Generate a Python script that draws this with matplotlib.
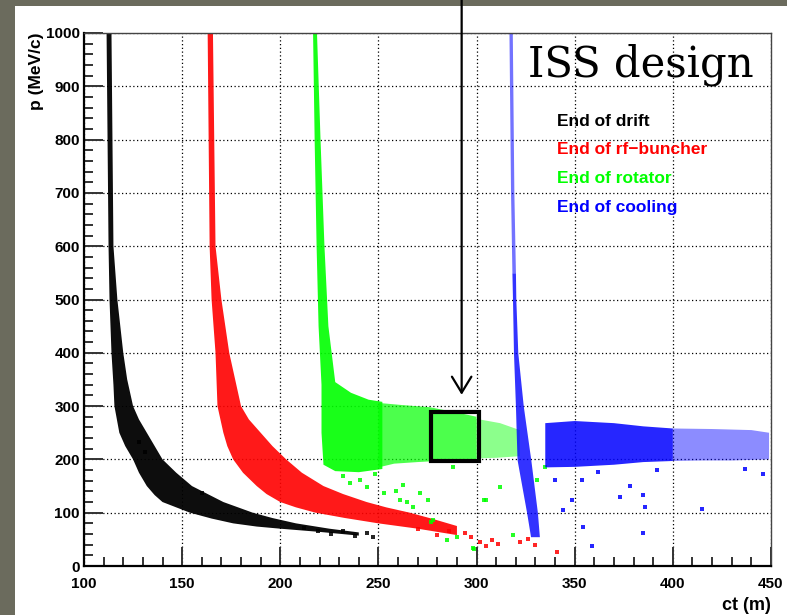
import numpy as np
import matplotlib.pyplot as plt
from matplotlib.patches import Rectangle

# p (MeV/c) versus ct (m) at four stages of the front end
# each band is stored as its two edges (ct, p); sparse parts as single points

# End of drift
drift_top_ct = [114, 115, 117, 120, 122, 125, 128, 132, 136, 140, 147, 155, 163, 171,
                186, 196, 208, 225, 240]
drift_top_p = [1000, 600, 500, 400, 350, 300, 275, 250, 225, 200, 175, 150, 135, 120,
               100, 90, 80, 70, 63]
drift_bot_ct = [111.5, 112.5, 113, 114, 115, 115.5, 117, 118, 121, 125, 128, 132, 136,
                140, 147, 154, 165, 176, 188, 200, 220, 240]
drift_bot_p = [1000, 600, 500, 400, 340, 300, 270, 250, 225, 200, 175, 150, 133,
               120, 110, 100, 89, 80, 74, 70, 64, 57]
drift_dots_ct = [244, 238, 232, 226, 219, 247, 212, 128, 131, 160]
drift_dots_p = [62, 57, 65, 60, 66, 55, 72, 233, 214, 137]

# End of rf-buncher
buncher_top_ct = [165.7, 167, 170, 174, 177, 180, 184, 190, 196, 203, 211, 222, 232,
                  244, 254, 266, 278, 290]
buncher_top_p = [1000, 600, 500, 400, 350, 300, 275, 250, 225, 200, 175, 150, 135,
                 120, 110, 100, 88, 75]
buncher_bot_ct = [163, 164, 165, 167, 168, 169.5, 171, 173, 176, 181, 188, 193, 200,
                  208, 218, 233, 250, 270, 290]
buncher_bot_p = [1000, 600, 500, 400, 300, 275, 250, 225, 200, 175, 150, 135, 120,
                 110, 100, 90, 80, 70, 58]
buncher_dots_ct = [302, 305, 308, 311, 322, 326, 330, 341, 294, 297, 286, 280, 270]
buncher_dots_p = [45, 38, 49, 41, 45, 50, 40, 27, 62, 55, 66, 58, 70]

# End of rotator
rotator_core_ct = [216.7, 218.7, 220.5, 222.5, 224.5, 228, 236, 245, 252,
                   252, 240, 228, 222, 221, 221, 219.5, 218.5, 217.5]
rotator_core_p = [1000, 1000, 800, 600, 450, 345, 325, 312, 308,
                  182, 176, 178, 190, 250, 340, 450, 600, 800]
rotator_mid_ct = [250, 262, 276, 290, 300, 300, 285, 270, 258, 250]
rotator_mid_p = [306, 302, 298, 288, 280, 200, 198, 195, 192, 185]
rotator_tail_ct = [300, 312, 322, 322, 310, 300]
rotator_tail_p = [276, 268, 255, 206, 203, 202]
rotator_dots_ct = [253, 259, 261, 267.6, 275, 278, 285, 298, 290, 288, 304, 312,
                   330.7, 335, 240.6, 244, 235.6, 262.5, 271, 264.5, 277, 298.7,
                   318.5, 304.8, 232, 248]
rotator_dots_p = [137, 141, 124, 111, 124, 86, 49, 33, 55, 186, 124, 149,
                  162, 186, 162, 149, 155, 152, 137, 121, 83, 32,
                  58, 124, 168, 172]

# End of cooling
cooling_stem_p = [1000, 700, 550, 500, 400, 300, 200, 100, 55]
cooling_stem_lo = [316.5, 317.3, 318, 318.3, 318.8, 319.8, 320.6, 325.5, 327.5]
cooling_stem_hi = [318.2, 319, 319.8, 320, 321, 323.8, 327.6, 331, 332]
cooling_core_ct = [335, 350, 370, 385, 400, 400, 385, 370, 350, 335]
cooling_core_p = [268, 272, 268, 262, 258, 197, 195, 190, 186, 185]
cooling_tail_ct = [400, 420, 440, 449, 449, 430, 415, 400]
cooling_tail_p = [258, 257, 255, 250, 200, 198, 198, 197]
cooling_dots_ct = [378, 385, 373, 386, 384.6, 358.6, 414.6, 354, 344, 348.6,
                   353.5, 340, 437, 446, 362, 392]
cooling_dots_p = [150, 133, 130, 111, 62, 37, 107, 74, 105, 124,
                  162, 162, 182, 172, 176, 180]

stages = ['End of drift', 'End of rf\u2212buncher', 'End of rotator', 'End of cooling']
colors = ['#000000', '#ff0000', '#00ff00', '#0000ff']

W, H = 787, 615
fig = plt.figure(figsize=(W / 100, H / 100), dpi=100, facecolor='#6b6b5d')
fig.patches.append(Rectangle((15 / W, 0), 1 - 15 / W, 1 - 6 / H, transform=fig.transFigure,
                             facecolor='white', edgecolor='none', zorder=-1))

ax = fig.add_axes([84 / W, 1 - 566 / H, (771 - 84) / W, (566 - 33) / H])


def band(top_ct, top_p, bot_ct, bot_p, color, alpha=1.0):
    ct = list(top_ct) + list(bot_ct)[::-1]
    p = list(top_p) + list(bot_p)[::-1]
    ax.fill(ct, p, color=color, lw=0, alpha=alpha, zorder=2)


def dots(ct, p, color):
    ax.scatter(ct, p, s=5, marker='s', color=color, lw=0, alpha=0.85, zorder=2)


# drift
band(drift_top_ct, drift_top_p, drift_bot_ct, drift_bot_p, colors[0], 0.95)
dots(drift_dots_ct, drift_dots_p, colors[0])

# rf-buncher
band(buncher_top_ct, buncher_top_p, buncher_bot_ct, buncher_bot_p, colors[1], 0.9)
dots(buncher_dots_ct, buncher_dots_p, colors[1])

# rotator
ax.fill(rotator_core_ct, rotator_core_p, color=colors[2], lw=0, alpha=0.9, zorder=2)
ax.fill(rotator_mid_ct, rotator_mid_p, color=colors[2], lw=0, alpha=0.7, zorder=2)
ax.fill(rotator_tail_ct, rotator_tail_p, color=colors[2], lw=0, alpha=0.45, zorder=2)
dots(rotator_dots_ct, rotator_dots_p, colors[2])

# cooling: thin sparse stem on top, denser below 550 MeV/c
k = cooling_stem_p.index(550)
ax.fill_betweenx(cooling_stem_p[:k + 1], cooling_stem_lo[:k + 1], cooling_stem_hi[:k + 1],
                 color=colors[3], lw=0, alpha=0.55, zorder=2)
ax.fill_betweenx(cooling_stem_p[k:], cooling_stem_lo[k:], cooling_stem_hi[k:],
                 color=colors[3], lw=0, alpha=0.8, zorder=2)
ax.fill(cooling_core_ct, cooling_core_p, color=colors[3], lw=0, alpha=0.85, zorder=2)
ax.fill(cooling_tail_ct, cooling_tail_p, color=colors[3], lw=0, alpha=0.45, zorder=2)
dots(cooling_dots_ct, cooling_dots_p, colors[3])

ax.set_xlim(100, 450)
ax.set_ylim(0, 1000)
ax.set_xticks(np.arange(100, 451, 50))
ax.set_yticks(np.arange(0, 1001, 100))
ax.set_xticks(np.arange(100, 451, 10), minor=True)
ax.set_yticks(np.arange(0, 1001, 20), minor=True)
ax.grid(True, which='major', color='black', ls=(0, (1, 2)), lw=0.9)
ax.tick_params(which='both', direction='in', top=False, right=False, colors='#333333')
ax.tick_params(which='major', length=14, width=1.4)
ax.tick_params(which='minor', length=6.5, width=1.4)
ax.tick_params(axis='x', pad=8, labelcolor='black')
ax.tick_params(axis='y', pad=3, labelcolor='black')
for lab in ax.get_xticklabels() + ax.get_yticklabels():
    lab.set_fontfamily('Liberation Sans')
    lab.set_fontweight('bold')
    lab.set_fontsize(11)
for side in ['top', 'right']:
    ax.spines[side].set_linewidth(1.0)
    ax.spines[side].set_color('#444444')
for side in ['left', 'bottom']:
    ax.spines[side].set_linewidth(1.6)

fig.text(37 / W, 1 - 32 / H, 'p (MeV/c)', rotation=90, ha='center', va='top',
         fontsize=12.5, fontweight='bold', family='Liberation Sans')
fig.text(771 / W, 1 - 614 / H, 'ct (m)', ha='right', va='bottom',
         fontsize=13, fontweight='bold', family='Liberation Sans')

fig.text(528 / W, 1 - 77 / H, 'ISS design', ha='left', va='baseline',
         fontsize=30, family='DejaVu Serif')

for i, (name, c) in enumerate(zip(stages, colors)):
    fig.text(557 / W, 1 - (121 + 28.7 * i) / H, name, ha='left', va='center', color=c,
             fontsize=12.5, fontweight='bold', family=['Liberation Sans', 'DejaVu Sans'])

# highlighted region and the arrow pointing at it
ax.add_patch(Rectangle((277, 197), 24, 91, fill=False, ec='black', lw=3, zorder=5))
ax.annotate('', xy=(292.4, 316), xytext=(292.4, 1070), xycoords='data',
            annotation_clip=False,
            arrowprops=dict(arrowstyle='->,head_length=1.15,head_width=0.7',
                            mutation_scale=10, lw=1.6, color='black'))

plt.savefig('out.png', dpi=100, facecolor=fig.get_facecolor())
